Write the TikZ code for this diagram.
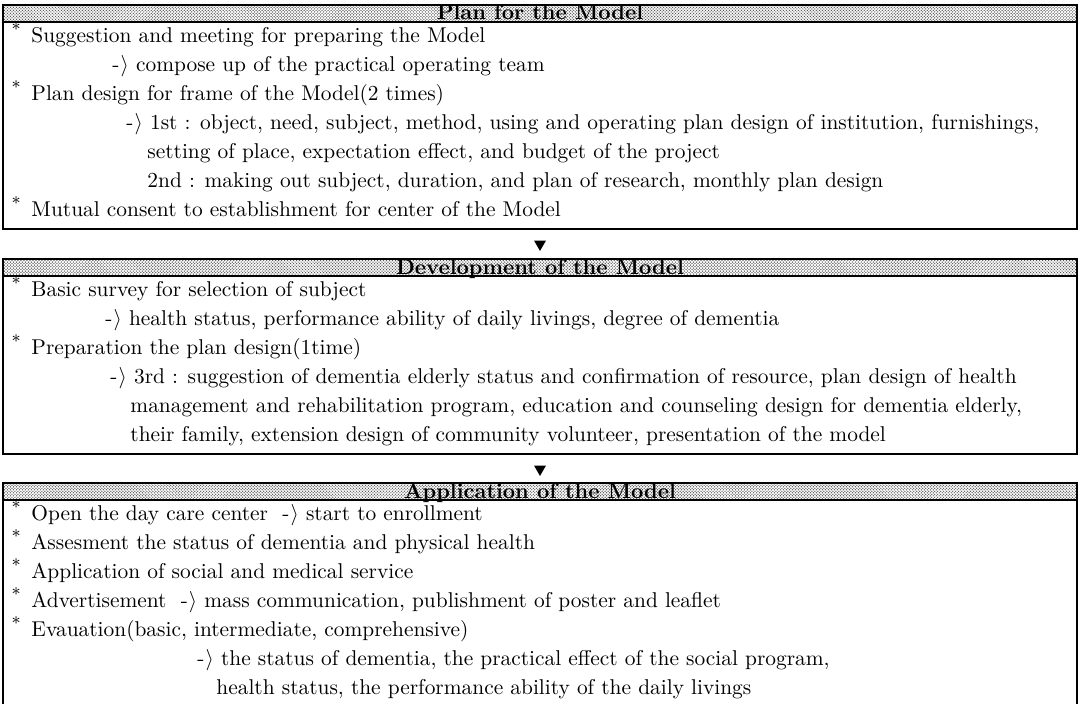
\documentclass[tikz,border=0pt]{standalone}
\usepackage{fontspec}
\usetikzlibrary{patterns,shapes.geometric}

% fine halftone screen for the title bands
\pgfdeclarepatternformonly{screendots}{\pgfqpoint{-.4pt}{-.4pt}}{\pgfqpoint{1.1pt}{1.1pt}}{\pgfqpoint{1.4pt}{1.4pt}}{
  \pgfpathcircle{\pgfqpoint{0pt}{0pt}}{.34pt}
  \pgfpathcircle{\pgfqpoint{.7pt}{.7pt}}{.34pt}
  \pgfusepath{fill}}

\newcommand\goesto{-\kern.5pt$\rangle$}
\newcommand\bul{\llap{\raisebox{.3em}{\footnotesize *}\hspace{5pt}}}

\tikzset{
  headband/.style={draw, line width=.7pt, pattern=screendots, pattern color=black!65},
  boxline/.style={draw, line width=.6pt},
  ttl/.style={anchor=base, inner sep=0pt, font=\bfseries},
  txt/.style={anchor=base west, inner sep=0pt},
  flowmark/.style={regular polygon, regular polygon sides=3, shape border rotate=180,
    fill=black, inner sep=0pt, minimum size=6.5pt}
}

\begin{document}
\begin{tikzpicture}[x=0.4673pt, y=-0.4673pt]

    \useasboundingbox (0,0) rectangle (1082,704);
    \clip (0,0) rectangle (1082,704);

    % plan
    \draw[boxline] (3,22) rectangle (1077,229);
    \draw[headband] (3,5) rectangle (1077,22);
    \node[ttl] (plan) at (540,20) {Plan for the Model};

    \node[txt] (sug) at (31,42) {\bul Suggestion and meeting for preparing the Model};
    \node[txt] (sugA) at (112,71) {\goesto{} compose up of the practical operating team};
    \node[txt] (frame) at (31,100) {\bul Plan design for frame of the Model(2 times)};
    \node[txt] (first) at (126,129) {\goesto{} 1st : object, need, subject, method, using and operating plan design of institution, furnishings,};
    \node[txt] (firstB) at (147,158) {setting of place, expectation effect, and budget of the project};
    \node[txt] (second) at (147,187) {2nd : making out subject, duration, and plan of research, monthly plan design};
    \node[txt] (consent) at (31,216) {\bul Mutual consent to establishment for center of the Model};

    \node[flowmark] (downA) at (540,244) {};

    % development
    \draw[boxline] (3,276) rectangle (1077,454);
    \draw[headband] (3,259) rectangle (1077,276);
    \node[ttl] (devel) at (540,274) {Development of the Model};

    \node[txt] (survey) at (31,296) {\bul Basic survey for selection of subject};
    \node[txt] (surveyA) at (105,325) {\goesto{} health status, performance ability of daily livings, degree of dementia};
    \node[txt] (prep) at (31,354) {\bul Preparation the plan design(1time)};
    \node[txt] (third) at (110,383) {\goesto{} 3rd : suggestion of dementia elderly status and confirmation of resource, plan design of health};
    \node[txt] (thirdB) at (130,412) {management and rehabilitation program, education and counseling design for dementia elderly,};
    \node[txt] (thirdC) at (130,441) {their family, extension design of community volunteer, presentation of the model};

    \node[flowmark] (downB) at (540,469) {};

    % application
    \draw[boxline] (3,500) rectangle (1077,720);
    \draw[headband] (3,483) rectangle (1077,500);
    \node[ttl] (appl) at (540,498) {Application of the Model};

    \node[txt] (open) at (31,520) {\bul Open the day care center \ \goesto{} start to enrollment};
    \node[txt] (assess) at (31,549) {\bul Assesment the status of dementia and physical health};
    \node[txt] (service) at (31,578) {\bul Application of social and medical service};
    \node[txt] (advert) at (31,607) {\bul Advertisement \ \goesto{} mass communication, publishment of poster and leaflet};
    \node[txt] (evalu) at (31,636) {\bul Evauation(basic, intermediate, comprehensive)};
    \node[txt] (evaluA) at (197,665) {\goesto{} the status of dementia, the practical effect of the social program,};
    \node[txt] (evaluB) at (216,694) {health status, the performance ability of the daily livings};
\end{tikzpicture}
\end{document}
